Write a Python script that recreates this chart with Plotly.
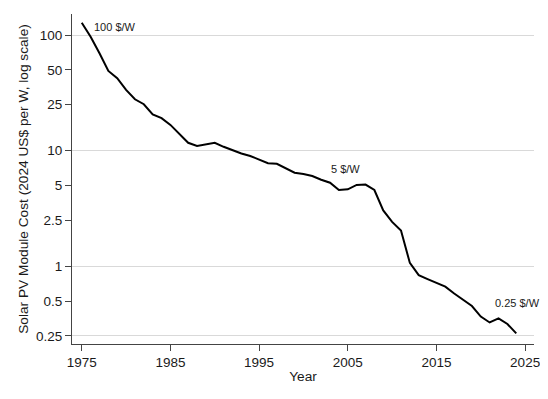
import plotly.graph_objects as go
import math

years = list(range(1975, 2025))
cost = [127.7, 96.7, 69.5, 48.9, 42.3, 33.5, 27.8, 25.2, 20.6, 19.1,
        16.7, 13.9, 11.7, 11.0, 11.4, 11.7, 10.8, 10.1, 9.46, 9.0,
        8.4, 7.8, 7.7, 6.99, 6.44, 6.29, 6.04, 5.61, 5.28, 4.57,
        4.63, 5.06, 5.09, 4.57, 3.04, 2.42, 2.04, 1.07, 0.84, 0.776,
        0.724, 0.667, 0.582, 0.511, 0.454, 0.368, 0.327, 0.355, 0.317, 0.263]

y_ticks = [100, 50, 25, 10, 5, 2.5, 1, 0.5, 0.25]
y_ticktext = ["100", "50", "25", "10", "5", "2.5", "1", "0.5", "0.25"]
y_grid = [100, 10, 1, 0.25]
x_ticks = [1975, 1985, 1995, 2005, 2015, 2025]

labels = ["100 $/W", "5 $/W", "0.25 $/W"]
label_years = [1975, 2005, 2024]
label_values = [100, 5, 0.25]

FONT = "Liberation Sans, Arial, sans-serif"
AXC = "#444444"
TXT = "#1a1a1a"

fig = go.Figure()
fig.add_trace(go.Scatter(x=years, y=cost, mode="lines",
                         line=dict(color="black", width=2), showlegend=False,
                         hoverinfo="skip"))

yr = [math.log10(0.213), math.log10(151.9)]

# page body has an 8px margin, so the figure is sized/offset to compensate
fig.update_layout(
    width=540, height=391,
    margin=dict(l=64, r=14, t=6, b=55),
    paper_bgcolor="white", plot_bgcolor="white",
    font=dict(family=FONT, color=TXT, size=13.5),
    xaxis=dict(range=[1973.9, 2026], tickvals=x_ticks, ticks="outside",
               ticklen=6, tickcolor=AXC, showline=True, linecolor=AXC,
               linewidth=1.3, showgrid=False, zeroline=False, automargin=False,
               tickfont=dict(size=13.5, color=TXT),
               title=dict(text="Year", standoff=2, font=dict(size=13.7))),
    yaxis=dict(type="log", range=yr, tickvals=y_grid, showticklabels=False,
               ticks="", showgrid=True, gridcolor="#d9d9d9", gridwidth=1.2,
               showline=True, linecolor=AXC, linewidth=1.3, zeroline=False,
               automargin=False),
    yaxis2=dict(type="log", range=yr, overlaying="y", side="left",
                tickvals=y_ticks, ticktext=y_ticktext, ticks="outside",
                ticklen=6, tickcolor=AXC, showgrid=False, showline=False,
                zeroline=False, automargin=False,
                tickfont=dict(size=13.5, color=TXT),
                title=dict(text="Solar PV Module Cost (2024 US$ per W, log scale)",
                           standoff=4, font=dict(size=13.7))),
)
# invisible trace so yaxis2 renders
fig.add_trace(go.Scatter(x=[years[0]], y=[cost[0]], yaxis="y2", mode="markers",
                         marker=dict(opacity=0), showlegend=False, hoverinfo="skip"))

fig.add_annotation(x=label_years[0], y=math.log10(label_values[0]), text=labels[0],
                   showarrow=False, xanchor="left", yanchor="middle",
                   xshift=10, yshift=8, font=dict(size=11, color=TXT))
fig.add_annotation(x=label_years[1], y=math.log10(label_values[1]), text=labels[1],
                   showarrow=False, xanchor="center", yanchor="middle",
                   xshift=-2.5, yshift=16, font=dict(size=11, color=TXT))
fig.add_annotation(x=label_years[2], y=math.log10(label_values[2]), text=labels[2],
                   showarrow=False, xanchor="right", yanchor="middle",
                   xshift=26, yshift=33, font=dict(size=11, color=TXT))

fig.write_html("out.html")
